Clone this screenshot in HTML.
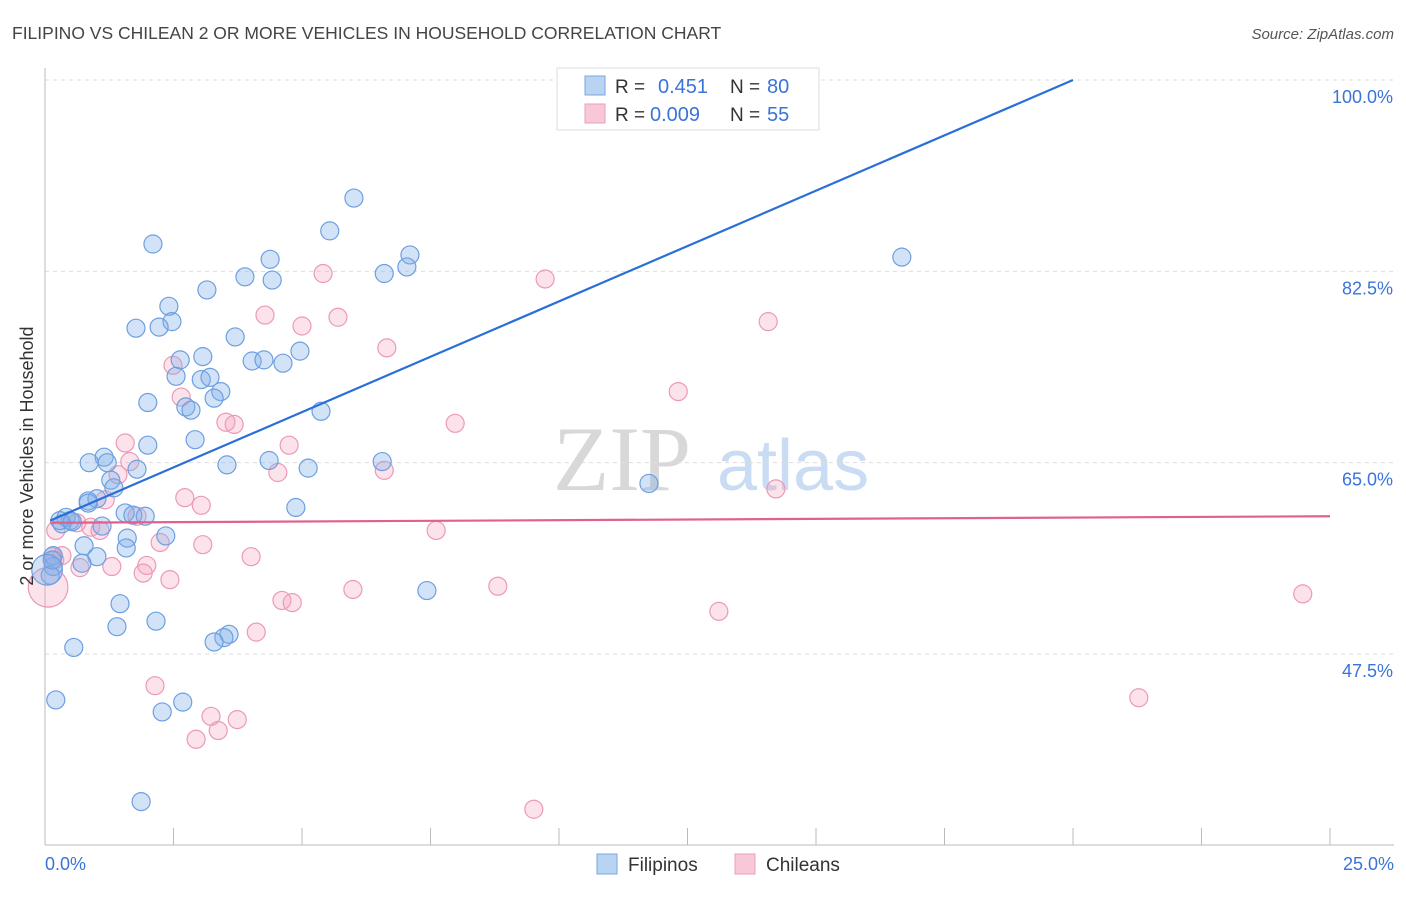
<!DOCTYPE html>
<html><head><meta charset="utf-8"><style>
body{margin:0;background:#fff;font-family:"Liberation Sans",sans-serif}
svg text{font-family:"Liberation Sans",sans-serif}
</style></head><body>
<svg id="chart" width="1406" height="892" viewBox="0 0 1406 892" xmlns="http://www.w3.org/2000/svg">
<text x="12" y="39" font-size="17.5" fill="#444">FILIPINO VS CHILEAN 2 OR MORE VEHICLES IN HOUSEHOLD CORRELATION CHART</text>
<text x="1394" y="39" font-size="15" fill="#555" font-style="italic" text-anchor="end">Source: ZipAtlas.com</text>
<g>
<text x="553" y="490" font-size="92" fill="#d8d8d8" font-family="Liberation Serif, serif" style="font-family:'Liberation Serif',serif">ZIP</text>
<text x="717" y="490" font-size="72" fill="#c9dcf3">atlas</text>
</g>
<g id="grid"></g>
<g id="axes"></g>
<g id="pts"></g>
<g id="lines"></g>
<g>
<rect x="557" y="68" width="262" height="62" fill="#fff" stroke="#ddd"/>
<rect x="585" y="76" width="20" height="19" fill="#b9d3f3" stroke="#7aa7e0"/>
<text x="615" y="93" font-size="19" fill="#333">R = </text><text x="658" y="93" font-size="20" fill="#3a74d8">0.451</text>
<text x="730" y="93" font-size="19" fill="#333">N = </text><text x="767" y="93" font-size="20" fill="#3a74d8">80</text>
<rect x="585" y="104" width="20" height="19" fill="#f8c8d8" stroke="#eaa0bb"/>
<text x="615" y="121" font-size="19" fill="#333">R = </text><text x="650" y="121" font-size="20" fill="#3a74d8">0.009</text>
<text x="730" y="121" font-size="19" fill="#333">N = </text><text x="767" y="121" font-size="20" fill="#3a74d8">55</text>
</g>
<g>
<rect x="597" y="854" width="20" height="20" fill="#b9d3f3" stroke="#7aa7e0"/>
<text x="628" y="871" font-size="19" fill="#333">Filipinos</text>
<rect x="735" y="854" width="20" height="20" fill="#f8c8d8" stroke="#eaa0bb"/>
<text x="766" y="871" font-size="19" fill="#333">Chileans</text>
</g>
<text transform="translate(33,456) rotate(-90)" font-size="18" fill="#333" text-anchor="middle">2 or more Vehicles in Household</text>
</svg>
<script>
const yTicks=[100,82.5,65,47.5];
const yTickLabels=["100.0%","82.5%","65.0%","47.5%"];
const xTickCount=10;
const blueX=[6.01,2.10,5.54,4.38,7.10,7.04,6.60,3.89,4.42,16.67,3.15,2.41,1.77,2.47,2.22,3.70,2.63,3.07,4.03,4.26,4.63,4.96,2.55,3.04,3.21,3.42,3.29,2.74,2.84,2.00,5.37,2.92,2.00,1.15,0.86,1.21,3.54,4.36,5.12,6.56,1.79,1.28,1.34,1.01,0.84,11.75,4.88,1.56,1.71,1.95,0.41,0.49,0.33,1.11,1.60,2.35,0.76,1.58,1.01,0.72,0.16,0.16,0.10,7.43,1.46,1.40,2.16,0.56,3.58,3.48,3.29,0.21,2.28,2.68,1.87,0.29,0.53,0.84,0.14,0.04];
const blueY=[89.2,85.0,86.2,83.6,84.0,82.9,82.3,82.0,81.7,83.8,80.8,79.3,77.3,77.9,77.4,76.5,74.4,74.7,74.3,74.4,74.1,75.2,72.9,72.6,72.8,71.5,70.9,70.1,69.8,70.5,69.7,67.1,66.6,65.5,65.0,65.0,64.8,65.2,64.5,65.1,64.4,63.4,62.7,61.7,61.5,63.1,60.9,60.4,60.2,60.1,60.0,59.7,59.4,59.2,58.1,58.3,57.4,57.2,56.4,55.8,56.5,55.5,54.7,53.3,52.1,50.0,50.5,48.1,49.3,49.0,48.6,43.3,42.2,43.1,34.0,59.7,59.6,61.3,56.1,55.2];
const blueSize=blueX.map((v,i)=>i===79?1.7:1);
const pinkX=[9.73,5.41,4.28,5.00,5.70,6.65,2.49,2.65,12.32,7.98,3.52,3.68,4.75,1.56,1.65,1.42,4.53,6.60,1.17,2.72,3.04,14.22,0.89,0.21,0.62,7.61,2.24,3.07,4.01,1.98,1.30,1.91,0.68,0.14,2.43,5.99,8.81,4.61,4.81,24.47,13.11,4.11,2.14,3.23,3.74,3.37,2.94,21.28,9.51,14.07,0.19,1.79,1.07,0.33,0.06];
const pinkY=[81.8,82.3,78.5,77.5,78.3,75.5,73.9,71.0,71.5,68.6,68.7,68.5,66.6,66.8,65.1,63.9,64.1,64.3,61.6,61.8,61.1,62.6,59.1,58.8,59.5,58.8,57.7,57.5,56.4,55.6,55.5,54.9,55.4,56.4,54.3,53.4,53.7,52.4,52.2,53.0,51.4,49.5,44.6,41.8,41.5,40.5,39.7,43.5,33.3,77.9,56.1,60.1,58.8,56.5,53.6];
const pinkSize=pinkX.map((v,i)=>i===54?2.2:1);
const blueTrend=[59.5,2.025];
const pinkTrend=[59.5,0.024];
const NS="http://www.w3.org/2000/svg";
const X0=45,X1=1330,Y100=80,Y475=654;
function sx(v){return X0+(v/25)*(X1-X0);}
function sy(v){return Y100+(100-v)*(Y475-Y100)/52.5;}
function mk(tag,attrs,parent){const e=document.createElementNS(NS,tag);for(const k in attrs)e.setAttribute(k,attrs[k]);parent.appendChild(e);return e;}
const grid=document.getElementById('grid'),axes=document.getElementById('axes'),pts=document.getElementById('pts'),lines=document.getElementById('lines');
yTicks.forEach((t,i)=>{
 const l=mk('line',{x1:45,x2:1394,y1:sy(t),y2:sy(t),stroke:'#ddd','stroke-dasharray':'4,4'},grid);
 
 
 const tx=mk('text',{x:1393,y:sy(t)+23,'font-size':18,fill:'#3a74d8','text-anchor':'end'},grid);
 tx.textContent=yTickLabels[i];
 
 
});
const ya=mk('line',{x1:45,x2:45,y1:68,y2:845,stroke:'#bbb'},axes);


const xa=mk('line',{x1:45,x2:1394,y1:845,y2:845,stroke:'#bbb'},axes);


for(let i=1;i<=xTickCount;i++){
 const t=mk('line',{x1:sx(i*2.5),x2:sx(i*2.5),y1:828,y2:845,stroke:'#bbb'},axes);
 
 
}
const xl0=mk('text',{x:45,y:870,'font-size':18,fill:'#3a74d8'},axes);xl0.textContent='0.0%';


const xl1=mk('text',{x:1394,y:870,'font-size':18,fill:'#3a74d8','text-anchor':'end'},axes);xl1.textContent='25.0%';


pinkX.forEach((v,i)=>{
 const c=mk('circle',{cx:sx(v),cy:sy(pinkY[i]),r:9*pinkSize[i],fill:'rgba(244,160,190,0.3)',stroke:'#eb9ab6','stroke-width':1.2},pts);
 
 
});
blueX.forEach((v,i)=>{
 const c=mk('circle',{cx:sx(v),cy:sy(blueY[i]),r:9*blueSize[i],fill:'rgba(130,175,232,0.35)',stroke:'#6d9fe0','stroke-width':1.2},pts);
 
 
});
const bEnd=(100-blueTrend[0])/blueTrend[1];
const bl=mk('line',{x1:sx(0.1),y1:sy(blueTrend[0]+blueTrend[1]*0.1),x2:sx(bEnd),y2:sy(100),stroke:'#2a6fd8','stroke-width':2.2},lines);


const pl=mk('line',{x1:sx(0.1),y1:sy(pinkTrend[0]+pinkTrend[1]*0.1),x2:sx(25),y2:sy(pinkTrend[0]+pinkTrend[1]*25),stroke:'#e0608f','stroke-width':2.2},lines);


</script>
</body></html>
